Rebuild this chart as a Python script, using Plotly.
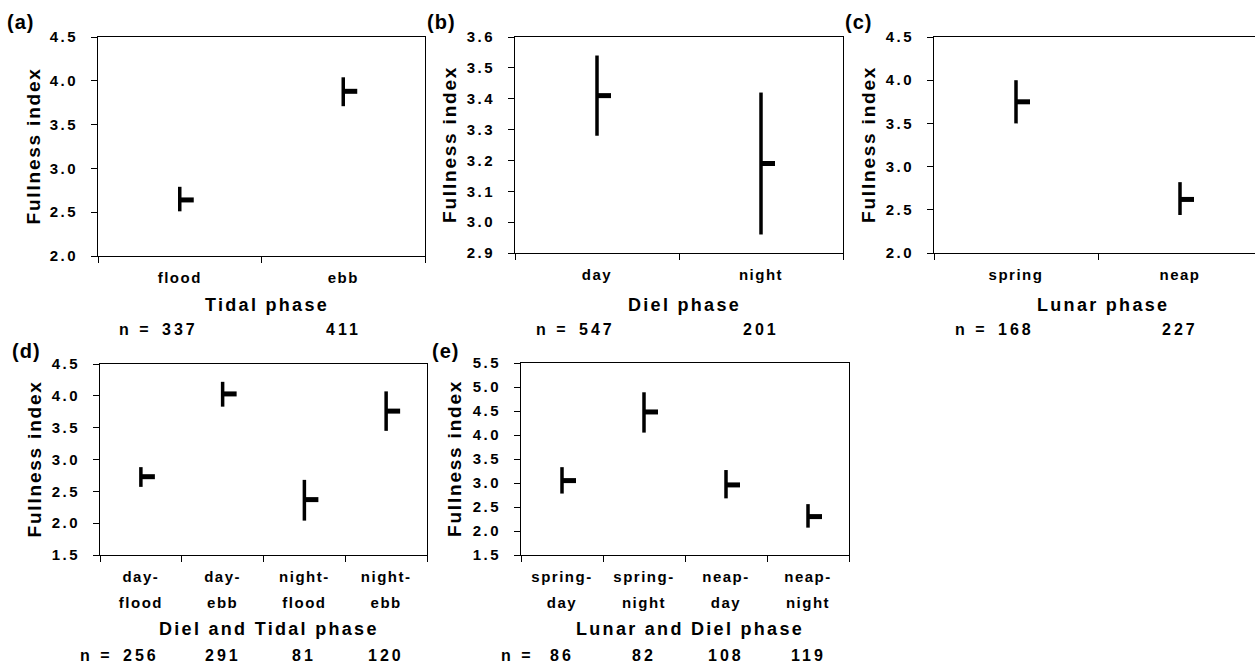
import plotly.graph_objects as go

# ---------------- data ----------------
a_categories = ["flood", "ebb"]
a_labels = ["flood", "ebb"]
a_mean = [2.64, 3.88]
a_upper = [2.79, 4.04]
a_lower = [2.51, 3.71]
a_n = [337, 411]

b_categories = ["day", "night"]
b_labels = ["day", "night"]
b_mean = [3.41, 3.19]
b_upper = [3.54, 3.42]
b_lower = [3.28, 2.96]
b_n = [547, 201]

c_categories = ["spring", "neap"]
c_labels = ["spring", "neap"]
c_mean = [3.75, 2.62]
c_upper = [4.00, 2.82]
c_lower = [3.50, 2.44]
c_n = [168, 227]

d_categories = ["day-flood", "day-ebb", "night-flood", "night-ebb"]
d_labels = ["day-<br>flood", "day-<br>ebb", "night-<br>flood", "night-<br>ebb"]
d_mean = [2.73, 4.03, 2.37, 3.76]
d_upper = [2.88, 4.22, 2.68, 4.07]
d_lower = [2.57, 3.83, 2.04, 3.45]
d_n = [256, 291, 81, 120]

e_categories = ["spring-day", "spring-night", "neap-day", "neap-night"]
e_labels = ["spring-<br>day", "spring-<br>night", "neap-<br>day", "neap-<br>night"]
e_mean = [3.05, 4.48, 2.96, 2.30]
e_upper = [3.33, 4.89, 3.27, 2.56]
e_lower = [2.78, 4.05, 2.68, 2.07]
e_n = [86, 82, 108, 119]

# ---------------- style / layout ----------------
W, H = 1255, 668
FONT = "Liberation Sans, Arial, sans-serif"
STUB_PX = 14


def sp(text, ls, size=None):
    fs = f"font-size:{size}px;" if size else ""
    return "<br>".join(
        f'<span style="{fs}letter-spacing:{ls}px">{t}</span>' for t in text.split("<br>")
    )


panels = [
    dict(key="a", cats=a_categories, labels=a_labels, mean=a_mean, up=a_upper, lo=a_lower, n=a_n,
         px=(98, 425), py=(37, 256), full_w=327, yr=(2.0, 4.5), dt=0.5, mirror_y=True,
         xtitle="Tidal phase", letter=(5, 22), ytitle_x=33, xtitle_y=305, n_y=329),
    dict(key="b", cats=b_categories, labels=b_labels, mean=b_mean, up=b_upper, lo=b_lower, n=b_n,
         px=(515, 843), py=(37, 253), full_w=328, yr=(2.9, 3.6), dt=0.1, mirror_y=True,
         xtitle="Diel phase", letter=(425, 22), ytitle_x=449, xtitle_y=305, n_y=329),
    dict(key="c", cats=c_categories, labels=c_labels, mean=c_mean, up=c_upper, lo=c_lower, n=c_n,
         px=(934, 1255), py=(37, 253), full_w=328, yr=(2.0, 4.5), dt=0.5, mirror_y=False,
         xtitle="Lunar phase", letter=(843, 22), ytitle_x=868, xtitle_y=305, n_y=329),
    dict(key="d", cats=d_categories, labels=d_labels, mean=d_mean, up=d_upper, lo=d_lower, n=d_n,
         px=(100, 427), py=(364, 555), full_w=327, yr=(1.5, 4.5), dt=0.5, mirror_y=True,
         xtitle="Diel and Tidal phase", letter=(10, 351), ytitle_x=34, xtitle_y=629, n_y=655),
    dict(key="e", cats=e_categories, labels=e_labels, mean=e_mean, up=e_upper, lo=e_lower, n=e_n,
         px=(521, 849), py=(363, 555), full_w=328, yr=(1.5, 5.5), dt=0.5, mirror_y=True,
         xtitle="Lunar and Diel phase", letter=(430, 351), ytitle_x=454, xtitle_y=629, n_y=655),
]

fig = go.Figure()
annotations = []

for i, p in enumerate(panels):
    idx = "" if i == 0 else str(i + 1)
    xa, ya = "x" + idx, "y" + idx
    ncat = len(p["cats"])
    unit = p["full_w"] / ncat            # px per category
    vis_w = p["px"][1] - p["px"][0]
    xs = list(range(ncat))
    stub = STUB_PX / unit

    fig.add_trace(go.Scatter(
        x=xs, y=p["mean"], xaxis=xa, yaxis=ya, mode="markers",
        marker=dict(size=1, color="black", opacity=0),
        text=p["cats"], hoverinfo="text+y", showlegend=False,
        error_y=dict(type="data", symmetric=False,
                     array=[u - m for u, m in zip(p["up"], p["mean"])],
                     arrayminus=[m - l for m, l in zip(p["mean"], p["lo"])],
                     color="black", thickness=3.5, width=0),
        error_x=dict(type="data", symmetric=False,
                     array=[stub] * ncat, arrayminus=[0] * ncat,
                     color="black", thickness=5, width=0),
    ))

    xdom = [p["px"][0] / W, p["px"][1] / W]
    ydom = [1 - p["py"][1] / H, 1 - p["py"][0] / H]
    xrange = [-0.5, -0.5 + vis_w / unit]
    bounds = [k - 0.5 for k in range(ncat + 1)]

    y0, y1 = p["yr"]
    nt = int(round((y1 - y0) / p["dt"])) + 1
    yticks = [round(y0 + k * p["dt"], 2) for k in range(nt)]

    fig.layout["xaxis" + idx] = dict(
        domain=xdom, anchor=ya, range=xrange, fixedrange=True, automargin=False,
        tickmode="array", tickvals=xs, ticktext=[sp(t, 1.5, 15) for t in p["labels"]],
        ticks="", showgrid=False, zeroline=False,
        showline=True, linecolor="black", linewidth=1, mirror=True,
        tickfont=dict(family=FONT, size=20, color="black", weight="bold"),
        ticklabelstandoff=2,
        minor=dict(tickmode="array", tickvals=bounds, ticks="outside", ticklen=6,
                   tickwidth=1, tickcolor="black", showgrid=False),
    )
    fig.layout["yaxis" + idx] = dict(
        domain=ydom, anchor=xa, range=[y0, y1], fixedrange=True, automargin=False,
        tickmode="array", tickvals=yticks, ticktext=[sp(f"{v:.1f}", 2.5) for v in yticks],
        ticks="outside", ticklen=6, tickwidth=1, tickcolor="black",
        showgrid=False, zeroline=False,
        showline=True, linecolor="black", linewidth=1, mirror=p["mirror_y"],
        tickfont=dict(family=FONT, size=15, color="black", weight="bold"),
        ticklabelstandoff=10,
    )

    # panel letter
    annotations.append(dict(
        text=sp(f"({p['key']})", 1), xref="paper", yref="paper",
        x=p["letter"][0] / W, y=1 - p["letter"][1] / H, xanchor="left", yanchor="middle",
        showarrow=False, font=dict(family=FONT, size=20, color="black", weight="bold")))
    # y title
    annotations.append(dict(
        text=sp("Fullness index", 1.8), xref="paper", yref="paper", textangle=-90,
        x=p["ytitle_x"] / W, y=1 - (p["py"][0] + p["py"][1]) / 2 / H,
        xanchor="center", yanchor="middle", showarrow=False,
        font=dict(family=FONT, size=19, color="black", weight="bold")))
    # x title
    annotations.append(dict(
        text=sp(p["xtitle"], 2.3), xref="paper", yref="paper",
        x=((p["px"][0] + p["px"][0] + p["full_w"]) / 2 + 5) / W, y=1 - p["xtitle_y"] / H,
        xanchor="center", yanchor="middle", showarrow=False,
        font=dict(family=FONT, size=18, color="black", weight="bold")))
    # n labels
    annotations.append(dict(
        text=sp("n =", 3), xref=xa, yref="paper", x=0, y=1 - p["n_y"] / H,
        xanchor="right", yanchor="middle", xshift=-26, showarrow=False,
        font=dict(family=FONT, size=16, color="black", weight="bold")))
    for k, nv in enumerate(p["n"]):
        annotations.append(dict(
            text=sp(str(nv), 3), xref=xa, yref="paper", x=k, y=1 - p["n_y"] / H,
            xanchor="center", yanchor="middle", showarrow=False,
            font=dict(family=FONT, size=16, color="black", weight="bold")))

fig.update_layout(
    width=W, height=H, margin=dict(l=0, r=0, t=0, b=0, autoexpand=False),
    paper_bgcolor="white", plot_bgcolor="white",
    showlegend=False, annotations=annotations,
    font=dict(family=FONT, color="black"),
)

fig.write_html("out.html", config={"displayModeBar": False})
